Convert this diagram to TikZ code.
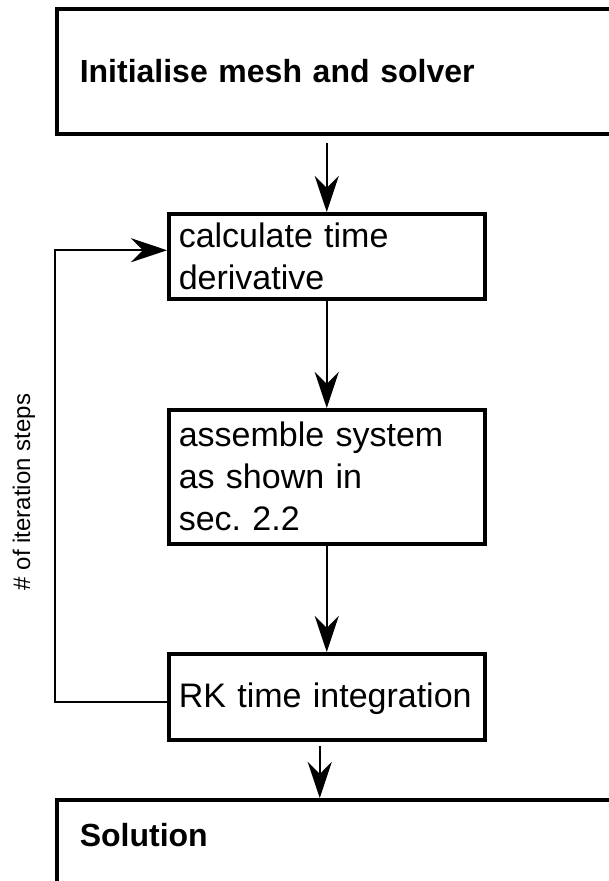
\documentclass[tikz,border=0pt]{standalone}
\usepackage{fontspec}
\setmainfont{Liberation Sans}
\usepackage{tikz}
\usetikzlibrary{arrows.meta, positioning}
\frenchspacing

\begin{document}
\begin{tikzpicture}[x=1pt, y=-1pt, >={Stealth[length=36pt, width=24pt, inset=12pt]},
    bigbox/.style={draw, line width=3.5pt, anchor=north west, minimum width=600pt,
        inner xsep=23pt, text width=554pt, align=left,
        font=\fontsize{32pt}{38pt}\bfseries\selectfont},
    stepbox/.style={draw, line width=3.5pt, anchor=north west, minimum width=316pt,
        inner xsep=10pt, text width=296pt, align=left,
        font=\fontsize{34pt}{42pt}\selectfont},
    flow/.style={->, line width=2pt}]
    \useasboundingbox (0,0) rectangle (609,881);
    \clip (0,0) rectangle (609,881);

    % Các khối
    \node[bigbox, minimum height=125pt] (init) at (55,7) {Initialise mesh and solver};
    \node[stepbox, minimum height=85pt] (calc) at (167,212) {calculate time\\derivative};
    \node[stepbox, minimum height=134pt] (assm) at (167,408) {assemble system\\as shown in\\sec. 2.2};
    \node[stepbox, minimum height=86pt, text depth=4pt] (rk) at (167,652) {RK time integration};
    \node[bigbox, inner ysep=24pt, text depth=90pt] (sol) at (55,798) {Solution};

    % Mũi tên
    \draw[flow, shorten <=7pt] (calc.north |- init.south) -- (calc.north);
    \draw[flow] (calc.south) -- (assm.north);
    \draw[flow] (assm.south) -- (rk.north);
    \draw[flow, shorten <=4pt] ([xshift=-7pt]rk.south) -- ([xshift=-7pt]rk.south |- sol.north);

    % Vòng lặp
    \draw[flow] ([yshift=-5pt]rk.west) -- ++(-112,0) |- ([yshift=6pt]calc.west);
    \node[rotate=90, font=\fontsize{24pt}{28pt}\selectfont] (iters) at (24,492) {\# of iteration steps};

\end{tikzpicture}
\end{document}
